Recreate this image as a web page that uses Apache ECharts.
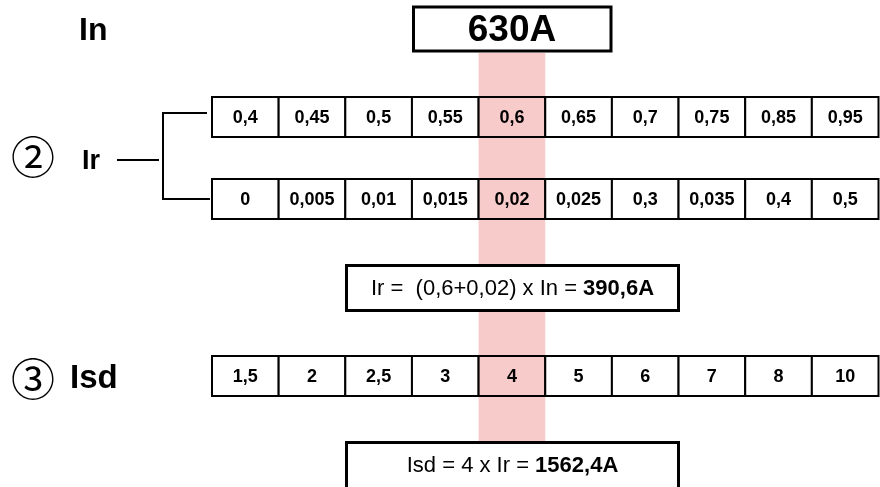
<!DOCTYPE html>
<html><head><meta charset="utf-8">
<script src="https://cdn.jsdelivr.net/npm/echarts@6.0.0/dist/echarts.min.js"></script>
<style>html,body{margin:0;padding:0;background:#fff}#c{width:880px;height:487px}</style>
</head><body><div id="c"></div>
<script>
// ---- data ----
const irCoefficients = ['0,4','0,45','0,5','0,55','0,6','0,65','0,7','0,75','0,85','0,95'];
const irOffsets = ['0','0,005','0,01','0,015','0,02','0,025','0,3','0,035','0,4','0,5'];
const isdMultipliers = ['1,5','2','2,5','3','4','5','6','7','8','10'];
const selectedIndex = 4;
const ratedCurrent = '630A';
const irResult = '390,6A';
const isdResult = '1562,4A';

// ---- chart ----
const FONT = "'Liberation Sans', Arial, Helvetica, sans-serif";
const PINK = '#f8cbcb';
const INK = '#000';
const chart = echarts.init(document.getElementById('c'), null, {renderer: 'canvas'});
const idx = irCoefficients.map((_, i) => i);

function axisPair(gi) {
  return {
    x: {type: 'category', gridIndex: gi, data: idx, show: false, boundaryGap: true},
    y: {type: 'value', gridIndex: gi, min: 0, max: 1, show: false}
  };
}
const pairs = [0,1,2,3].map(axisPair);

function cellSeries(gi, labels) {
  return {
    type: 'custom', xAxisIndex: gi, yAxisIndex: gi, z: 5,
    data: labels.map((_, i) => [i, 1]),
    renderItem(params, api) {
      const i = api.value(0);
      const top = api.coord([i, 1]);
      const bot = api.coord([i, 0]);
      const w = api.size([1, 0])[0];
      const x0 = top[0] - w / 2;
      return {
        type: 'group',
        children: [
          {type: 'rect', shape: {x: x0, y: top[1], width: w, height: bot[1] - top[1]},
           style: {fill: i === selectedIndex ? PINK : '#fff', stroke: '#000', lineWidth: 2}},
          {type: 'text', x: top[0], y: (top[1] + bot[1]) / 2 + 1,
           style: {text: labels[i], font: 'bold 18px ' + FONT, fill: INK,
                   align: 'center', verticalAlign: 'middle'}}
        ]
      };
    }
  };
}

const highlightSeries = {
  type: 'custom', xAxisIndex: 0, yAxisIndex: 0, z: 1,
  data: [[selectedIndex, 1]],
  renderItem(params, api) {
    const top = api.coord([api.value(0), 1]);
    const bot = api.coord([api.value(0), 0]);
    const w = api.size([1, 0])[0];
    return {type: 'rect', shape: {x: top[0] - w / 2, y: top[1], width: w, height: bot[1] - top[1]},
            style: {fill: PINK}};
  }
};

const irFormulaPlain = 'Ir =  (' + irCoefficients[selectedIndex] + '+' + irOffsets[selectedIndex] + ') x In = ';
const isdFormulaPlain = 'Isd = ' + isdMultipliers[selectedIndex] + ' x Ir = ';

function formulaBox(y, h, plain, bold) {
  return [
    {type: 'rect', z: 50, shape: {x: 346.5, y: y, width: 332, height: h},
     style: {fill: '#fff', stroke: '#000', lineWidth: 3}},
    {type: 'text', z: 51, x: 512.5, y: y + 23.5,
     style: {text: '{n|' + plain + '}{b|' + bold + '}', align: 'center', verticalAlign: 'middle',
             rich: {n: {font: '22px ' + FONT, fill: INK}, b: {font: 'bold 22px ' + FONT, fill: INK}}}}
  ];
}

const option = {
  animation: false,
  backgroundColor: '#fff',
  grid: [
    {left: 212, right: 1.5, top: 53, bottom: 46},
    {left: 212, right: 1.5, top: 97, height: 40},
    {left: 212, right: 1.5, top: 179, height: 40},
    {left: 212, right: 1.5, top: 356, height: 40}
  ],
  xAxis: pairs.map(p => p.x),
  yAxis: pairs.map(p => p.y),
  series: [
    highlightSeries,
    cellSeries(1, irCoefficients),
    cellSeries(2, irOffsets),
    cellSeries(3, isdMultipliers)
  ],
  graphic: [
    {type: 'text', z: 50, x: 79, y: 31, style: {text: 'In', font: 'bold 32px ' + FONT, fill: INK, verticalAlign: 'middle'}},
    {type: 'rect', z: 50, shape: {x: 413.5, y: 7, width: 197.5, height: 44}, style: {fill: '#fff', stroke: '#000', lineWidth: 3}},
    {type: 'text', z: 51, x: 512, y: 31, style: {text: ratedCurrent, font: 'bold 37px ' + FONT, fill: INK, align: 'center', verticalAlign: 'middle'}},
    {type: 'text', z: 50, x: 33, y: 157, style: {text: '②', font: "44px 'Noto Sans CJK JP'", fill: INK, align: 'center', verticalAlign: 'middle'}},
    {type: 'text', z: 50, x: 82, y: 162, style: {text: 'Ir', font: 'bold 27px ' + FONT, fill: INK, verticalAlign: 'middle'}},
    {type: 'line', z: 50, shape: {x1: 117, y1: 160, x2: 159, y2: 160}, style: {stroke: '#000', lineWidth: 2}},
    {type: 'polyline', z: 50, shape: {points: [[207, 113], [163, 113], [163, 199], [210, 199]]}, style: {stroke: '#000', lineWidth: 2, fill: null}},
    ...formulaBox(265.5, 45, irFormulaPlain, irResult),
    {type: 'text', z: 50, x: 33, y: 379, style: {text: '③', font: "44px 'Noto Sans CJK JP'", fill: INK, align: 'center', verticalAlign: 'middle'}},
    {type: 'text', z: 50, x: 70, y: 379, style: {text: 'Isd', font: 'bold 33px ' + FONT, fill: INK, verticalAlign: 'middle'}},
    ...formulaBox(442.5, 60, isdFormulaPlain, isdResult)
  ]
};
chart.setOption(option);
</script>
</body></html>
